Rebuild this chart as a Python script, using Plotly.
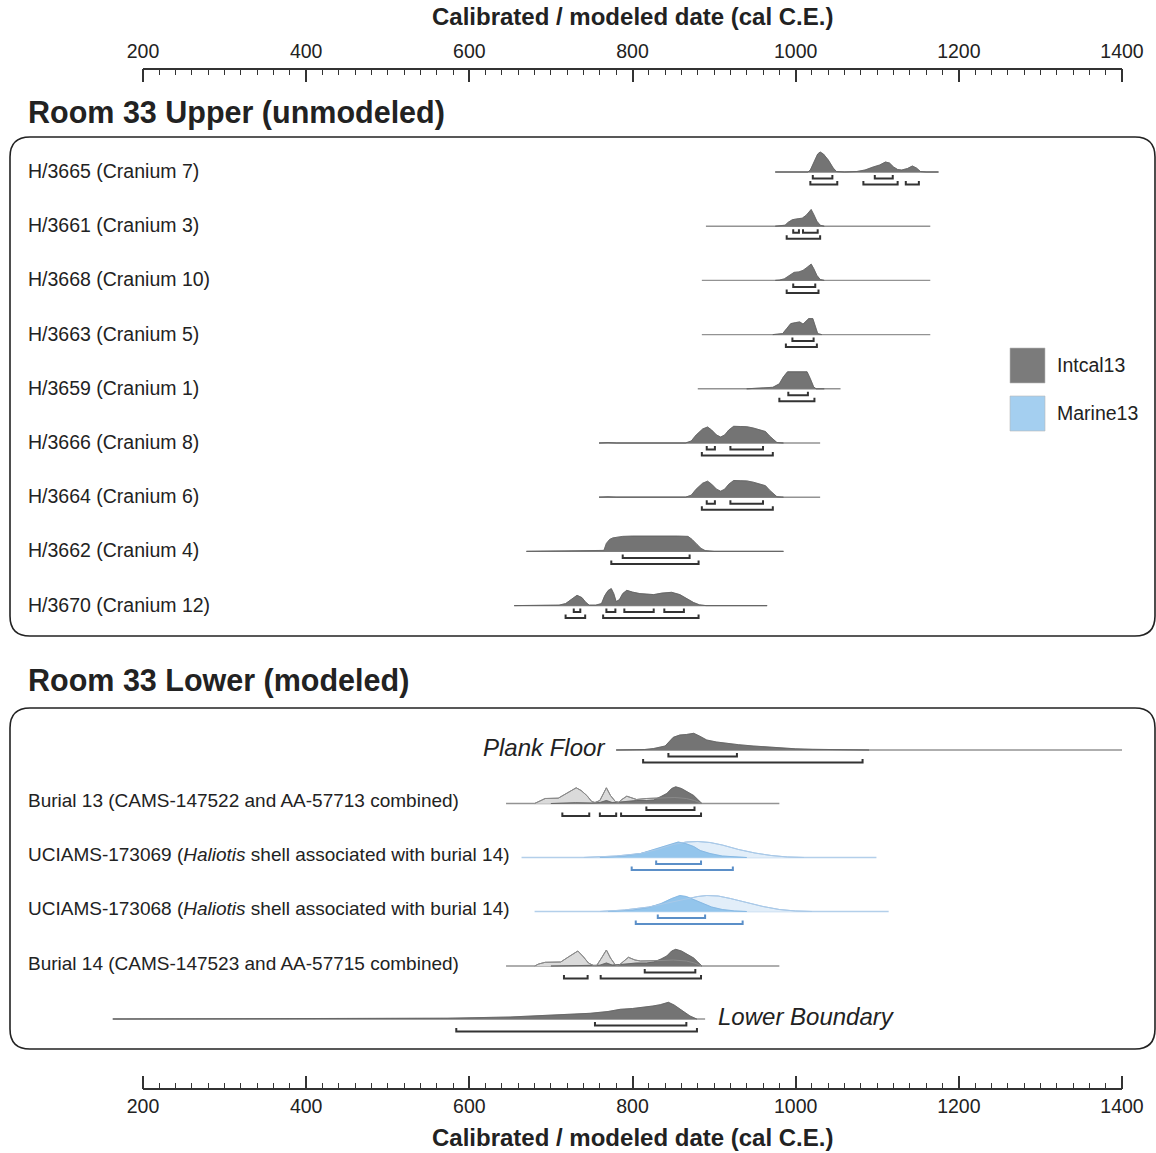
import plotly.graph_objects as go

# ======================= DATA =======================
AXIS_TICKS = [200, 400, 600, 800, 1000, 1200, 1400]
AXIS_TITLE = "Calibrated / modeled date (cal C.E.)"
UPPER_TITLE = "Room 33 Upper (unmodeled)"
LOWER_TITLE = "Room 33 Lower (modeled)"
LEGEND_LABELS = ["Intcal13", "Marine13"]

# --- Room 33 Upper (unmodeled), Intcal13 calibrated probability (relative units) ---
h3665_span = [975, 1175]
h3665_yr = [975, 1015, 1018, 1022, 1027, 1030, 1034, 1040, 1046, 1050, 1060, 1075, 1085, 1095, 1103, 1110, 1115, 1120, 1125, 1130, 1137, 1143, 1148, 1153, 1160, 1175]
h3665_p = [0, 0, 2, 10, 18, 20, 18, 12, 4, 0.5, 0, 0.5, 2, 5, 7, 10, 9, 5, 2.5, 2, 3.5, 6, 4, 0.5, 0, 0]
h3665_68 = [[1021, 1045], [1097, 1119]]
h3665_95 = [[1018, 1051], [1083, 1125], [1135, 1151]]

h3661_span = [890, 1165]
h3661_yr = [975, 980, 987, 991, 996, 1003, 1008, 1013, 1017, 1019, 1022, 1026, 1030, 1035]
h3661_p = [0, 0.3, 1, 4, 6.5, 7.5, 8, 11, 15, 16.7, 12, 5, 1, 0]
h3661_68 = [[997, 1004], [1009, 1027]]
h3661_95 = [[989, 1030]]

h3668_span = [885, 1165]
h3668_yr = [975, 980, 986, 992, 998, 1004, 1009, 1014, 1019, 1022, 1026, 1030, 1035]
h3668_p = [0, 0.3, 1.5, 5, 8, 8.5, 10, 13, 16.3, 12, 5, 1, 0]
h3668_68 = [[997, 1024]]
h3668_95 = [[989, 1028]]

h3663_span = [885, 1165]
h3663_yr = [972, 978, 984, 989, 994, 1000, 1005, 1009, 1013, 1016, 1021, 1024, 1027, 1032]
h3663_p = [0, 0.3, 1, 6, 11, 12, 12.7, 10.5, 14, 16, 16, 8, 1, 0]
h3663_68 = [[996, 1022]]
h3663_95 = [[988, 1026]]

h3659_span = [880, 1055]
h3659_yr = [940, 960, 972, 980, 985, 990, 1000, 1008, 1014, 1018, 1022, 1025, 1035]
h3659_p = [0, 0.5, 1.5, 5, 12, 17, 17.3, 17, 17, 10, 2, 0, 0]
h3659_68 = [[991, 1015]]
h3659_95 = [[980, 1023]]

h3666_span = [759, 1030]
h3666_yr = [759, 770, 780, 865, 872, 878, 886, 892, 897, 903, 908, 913, 918, 924, 932, 940, 948, 956, 963, 968, 973, 977, 985]
h3666_p = [0, 0.4, 0, 0, 2, 8, 14, 16, 13, 8, 6, 8, 13, 16.7, 16.5, 16.3, 15, 13.5, 11.5, 7, 3, 0.5, 0]
h3666_68 = [[891, 901], [920, 960]]
h3666_95 = [[885, 972]]

h3664_span = [759, 1030]
h3664_yr = [759, 770, 780, 865, 872, 878, 886, 892, 897, 903, 908, 913, 918, 924, 932, 940, 948, 956, 963, 968, 973, 977, 985]
h3664_p = [0, 0.4, 0, 0, 2, 8, 14, 16, 13, 8, 6, 8, 13, 16.7, 16.5, 16.3, 15, 13.5, 11.5, 7, 3, 0.5, 0]
h3664_68 = [[891, 901], [920, 960]]
h3664_95 = [[885, 972]]

h3662_span = [670, 985]
h3662_yr = [670, 700, 740, 755, 765, 768, 772, 776, 782, 788, 800, 820, 840, 855, 868, 873, 879, 884, 889, 900, 985]
h3662_p = [0, 0.3, 0.5, 0.5, 1, 8, 12, 13.5, 14.5, 15, 15.3, 15.5, 15.3, 15.3, 15, 12, 7, 3, 0.8, 0, 0]
h3662_68 = [[788, 870]]
h3662_95 = [[774, 881]]

h3670_span = [655, 965]
h3670_yr = [655, 690, 710, 718, 725, 732, 738, 743, 747, 755, 762, 766, 770, 774, 777, 780, 784, 788, 793, 800, 809, 818, 826, 836, 848, 858, 866, 875, 882, 890, 965]
h3670_p = [0, 0.3, 0.5, 2, 6, 10.3, 8, 3, 0.5, 0.5, 2, 10, 15, 17, 12, 4, 6, 12, 15.3, 13.5, 12, 11.3, 11, 12.5, 13.3, 11, 7, 3, 0.8, 0, 0]
h3670_68 = [[728, 736], [768, 779], [790, 826], [839, 863]]
h3670_95 = [[718, 742], [764, 881]]

# --- Room 33 Lower (modeled): likelihood (unmodeled) and posterior (modeled) ---
plank_span = [780, 1400]
plank_yr = [780, 815, 826, 840, 850, 858, 866, 875, 882, 891, 903, 915, 930, 948, 965, 981, 1000, 1021, 1063, 1090]
plank_post = [0, 0.5, 1.5, 4, 12.7, 15, 15.5, 16.7, 14, 10, 8, 6.7, 5.3, 4, 3, 2, 1.2, 0.7, 0.3, 0]
plank_68 = [[844, 928]]
plank_95 = [[813, 1082]]

b13_span = [645, 980]
b13_like_yr = [680, 685, 693, 709, 721, 731, 737, 744, 750, 754, 760, 764, 768, 773, 779, 783, 787, 793, 799, 805, 817, 834, 852, 866, 876, 885]
b13_like = [0, 2, 5, 5.3, 10.7, 15.7, 13, 8, 2, 1, 3, 10, 15.7, 8, 2, 1, 4, 7.3, 5.5, 4, 5, 5.3, 6, 5, 3, 0]
b13_post_yr = [700, 730, 750, 760, 768, 775, 785, 795, 805, 817, 826, 835, 842, 848, 853, 860, 866, 875, 880, 885]
b13_post = [0, 0.8, 0.5, 1, 3, 1, 1.5, 2.5, 3, 3, 3.5, 7, 10, 15, 16.7, 15, 12, 8, 4, 0]
b13_68 = [[817, 876]]
b13_95 = [[714, 747], [760, 780], [786, 884]]

u069_span = [664, 1099]
u069_like_yr = [740, 780, 810, 830, 850, 866, 880, 895, 910, 930, 950, 970, 990, 1010]
u069_like = [0, 1.5, 4, 8, 13, 15.5, 16, 15, 12.5, 8, 4.5, 2, 0.5, 0]
u069_post_yr = [760, 790, 810, 830, 845, 856, 865, 875, 883, 895, 910, 925, 940]
u069_post = [0, 1.5, 4, 9, 13, 15.5, 14, 11, 7, 4, 1.5, 0.4, 0]
u069_68 = [[829, 884]]
u069_95 = [[799, 923]]

u068_span = [680, 1114]
u068_like_yr = [760, 790, 820, 845, 865, 880, 891, 905, 920, 940, 960, 980, 1000, 1020]
u068_like = [0, 1.5, 4.5, 9, 13, 15, 16, 15.5, 13, 9, 5, 2, 0.5, 0]
u068_post_yr = [770, 800, 820, 835, 848, 858, 866, 875, 885, 897, 910, 925, 940]
u068_post = [0, 1.5, 4, 8, 13, 16, 15, 12, 8, 4.5, 2, 0.6, 0]
u068_68 = [[831, 889]]
u068_95 = [[804, 935]]

b14_span = [645, 980]
b14_like_yr = [680, 685, 693, 712, 722, 733, 740, 746, 752, 756, 762, 768, 773, 779, 783, 789, 795, 803, 810, 830, 850, 866, 876, 885]
b14_like = [0, 2, 3.7, 4, 9.3, 15, 9, 3, 0.5, 0.3, 8, 16, 8, 1, 0.5, 5, 8.7, 6, 5, 5.3, 6, 5, 3, 0]
b14_post_yr = [700, 730, 750, 760, 768, 775, 785, 795, 805, 817, 826, 835, 842, 848, 853, 860, 866, 875, 880, 885]
b14_post = [0, 0.6, 0.4, 0.8, 3, 1, 1.5, 2.5, 3, 3, 4, 7, 10, 15, 16.7, 15, 12, 8, 4, 0]
b14_68 = [[815, 877]]
b14_95 = [[716, 745], [761, 884]]

lowb_span = [163, 889]
lowb_yr = [163, 400, 500, 573, 650, 695, 748, 770, 785, 800, 817, 825, 834, 844, 851, 858, 865, 870.5, 878.7]
lowb_post = [0, 0.1, 0.4, 0.8, 2, 4, 5.7, 7.5, 9.7, 10.5, 11.7, 13, 14.3, 16.7, 14, 10, 6, 3, 0]
lowb_68 = [[754, 866]]
lowb_95 = [[584, 879]]

# ======================= STYLE / LAYOUT =======================
FONT = "Liberation Sans, Arial, Helvetica, sans-serif"
TXT = "#222222"
DARK_FILL = "#747474"
DARK_LINE = "#5e5e5e"
LIGHT_FILL = "#dadada"
LIGHT_LINE = "#8a8a8a"
BASE_GREY = "#939393"
BRACKET_GREY = "#333333"
BLUE_FILL = "#93c5ec"
BLUE_LINE = "#7fb3e0"
BLUE_LIGHT_FILL = "#e2eef9"
BLUE_LIGHT_LINE = "#a9c9e8"
BLUE_BASE = "#b3cfea"
BLUE_BRACKET = "#5b8fc8"
LEGEND_COLORS = ["#7b7b7b", "#a4cff0"]

# plot area = full width; x range chosen so that 200 -> px 143 and 1400 -> px 1122
PX_PER_YR = (1122 - 143) / 1200.0
X0 = 200 - 143 / PX_PER_YR
X1 = 1400 + (1156 - 1122) / PX_PER_YR
TOP, BOT = 69, 1089   # y pixel extent of plot area (y axis expressed in page pixels)


def px(xp):
    return xp / 1156.0


upper_rows = [
    ("H/3665 (Cranium 7)", h3665_span, h3665_yr, h3665_p, h3665_68, h3665_95),
    ("H/3661 (Cranium 3)", h3661_span, h3661_yr, h3661_p, h3661_68, h3661_95),
    ("H/3668 (Cranium 10)", h3668_span, h3668_yr, h3668_p, h3668_68, h3668_95),
    ("H/3663 (Cranium 5)", h3663_span, h3663_yr, h3663_p, h3663_68, h3663_95),
    ("H/3659 (Cranium 1)", h3659_span, h3659_yr, h3659_p, h3659_68, h3659_95),
    ("H/3666 (Cranium 8)", h3666_span, h3666_yr, h3666_p, h3666_68, h3666_95),
    ("H/3664 (Cranium 6)", h3664_span, h3664_yr, h3664_p, h3664_68, h3664_95),
    ("H/3662 (Cranium 4)", h3662_span, h3662_yr, h3662_p, h3662_68, h3662_95),
    ("H/3670 (Cranium 12)", h3670_span, h3670_yr, h3670_p, h3670_68, h3670_95),
]
upper_base = [172 + 54.2 * i for i in range(len(upper_rows))]

LABEL_SIZE = 19.5
LOWER_LABEL_SIZE = 19
lower_rows = [
    dict(label="<i>Plank Floor</i>", lx=607, la="right", size=24, span=plank_span,
         post=(plank_yr, plank_post), like=None, r68=plank_68, r95=plank_95, blue=False),
    dict(label="Burial 13 (CAMS-147522 and AA-57713 combined)", lx=26, la="left", size=LOWER_LABEL_SIZE, span=b13_span,
         post=(b13_post_yr, b13_post), like=(b13_like_yr, b13_like), r68=b13_68, r95=b13_95, blue=False),
    dict(label="UCIAMS-173069 (<i>Haliotis</i> shell associated with burial 14)", lx=26, la="left", size=LOWER_LABEL_SIZE,
         span=u069_span, post=(u069_post_yr, u069_post), like=(u069_like_yr, u069_like),
         r68=u069_68, r95=u069_95, blue=True),
    dict(label="UCIAMS-173068 (<i>Haliotis</i> shell associated with burial 14)", lx=26, la="left", size=LOWER_LABEL_SIZE,
         span=u068_span, post=(u068_post_yr, u068_post), like=(u068_like_yr, u068_like),
         r68=u068_68, r95=u068_95, blue=True),
    dict(label="Burial 14 (CAMS-147523 and AA-57715 combined)", lx=26, la="left", size=LOWER_LABEL_SIZE, span=b14_span,
         post=(b14_post_yr, b14_post), like=(b14_like_yr, b14_like), r68=b14_68, r95=b14_95, blue=False),
    dict(label="<i>Lower Boundary</i>", lx=716, la="left", size=24, span=lowb_span,
         post=(lowb_yr, lowb_post), like=None, r68=lowb_68, r95=lowb_95, blue=False),
]
lower_base = [750, 803.5, 857.5, 911.5, 966, 1019]

fig = go.Figure()


def add_base(span, base, color):
    fig.add_trace(go.Scatter(x=span, y=[base, base], mode="lines",
                             line=dict(color=color, width=1.4),
                             hoverinfo="skip", showlegend=False))


def add_density(yrs, vals, base, fill, line, lw=0.8):
    xs = list(yrs) + [yrs[-1], yrs[0]]
    ys = [base - v for v in vals] + [base, base]
    fig.add_trace(go.Scatter(x=xs, y=ys, mode="lines", fill="toself", fillcolor=fill,
                             line=dict(color=fill, width=0.5), hoverinfo="skip", showlegend=False))
    fig.add_trace(go.Scatter(x=list(yrs), y=[base - v for v in vals], mode="lines",
                             line=dict(color=line, width=lw), hoverinfo="skip", showlegend=False))


def add_outline(yrs, vals, base, line, lw=1.0):
    fig.add_trace(go.Scatter(x=list(yrs), y=[base - v for v in vals], mode="lines",
                             line=dict(color=line, width=lw), hoverinfo="skip", showlegend=False))


def add_brackets(r68, r95, base, color):
    xs, ys = [], []
    for ranges, off in ((r68, 6.5), (r95, 12.5)):
        y = base + off
        for a, b in ranges:
            xs += [a, a, b, b, None]
            ys += [y - 3.5, y, y, y - 3.5, None]
    fig.add_trace(go.Scatter(x=xs, y=ys, mode="lines", line=dict(color=color, width=2),
                             hoverinfo="skip", showlegend=False))


annotations = []

# upper panel rows
for (label, span, yrs, vals, r68, r95), base in zip(upper_rows, upper_base):
    add_base(span, base, BASE_GREY)
    add_density(yrs, vals, base, DARK_FILL, DARK_LINE)
    add_brackets(r68, r95, base, BRACKET_GREY)
    annotations.append(dict(x=px(26), xref="paper", y=base - 1, yref="y", text=label,
                            showarrow=False, xanchor="left", yanchor="middle",
                            font=dict(size=LABEL_SIZE, color=TXT, family=FONT)))

# lower panel rows
for row, base in zip(lower_rows, lower_base):
    blue = row["blue"]
    add_base(row["span"], base, BLUE_BASE if blue else BASE_GREY)
    if row["like"] is not None:
        add_density(row["like"][0], row["like"][1], base,
                    BLUE_LIGHT_FILL if blue else LIGHT_FILL,
                    BLUE_LIGHT_LINE if blue else LIGHT_LINE, lw=1.0)
    add_density(row["post"][0], row["post"][1], base,
                BLUE_FILL if blue else DARK_FILL, BLUE_LINE if blue else DARK_LINE)
    if row["like"] is not None:
        add_outline(row["like"][0], row["like"][1], base,
                    BLUE_LIGHT_LINE if blue else LIGHT_LINE, lw=1.0)
    add_brackets(row["r68"], row["r95"], base, BLUE_BRACKET if blue else BRACKET_GREY)
    annotations.append(dict(x=px(row["lx"]), xref="paper", y=base - 3, yref="y", text=row["label"],
                            showarrow=False, xanchor=row["la"], yanchor="middle",
                            font=dict(size=row["size"], color=TXT, family=FONT)))

# dummy trace for the bottom axis
fig.add_trace(go.Scatter(x=[200], y=[None], xaxis="x2", mode="markers",
                         hoverinfo="skip", showlegend=False))

# headers / axis titles
annotations += [
    dict(x=px(26), xref="paper", y=112, yref="y", text="<b>%s</b>" % UPPER_TITLE, showarrow=False,
         xanchor="left", yanchor="middle", font=dict(size=30.5, color=TXT, family=FONT)),
    dict(x=px(26), xref="paper", y=680, yref="y", text="<b>%s</b>" % LOWER_TITLE, showarrow=False,
         xanchor="left", yanchor="middle", font=dict(size=30.5, color=TXT, family=FONT)),
    dict(x=px(632), xref="paper", y=1 + (TOP - 17) / (BOT - TOP), yref="paper",
         text="<b>%s</b>" % AXIS_TITLE, showarrow=False, xanchor="center", yanchor="middle",
         font=dict(size=24, color=TXT, family=FONT)),
    dict(x=px(632), xref="paper", y=-(1137 - BOT) / (BOT - TOP), yref="paper",
         text="<b>%s</b>" % AXIS_TITLE, showarrow=False, xanchor="center", yanchor="middle",
         font=dict(size=24, color=TXT, family=FONT)),
]

# legend
shapes = []
for i, (lab, col) in enumerate(zip(LEGEND_LABELS, LEGEND_COLORS)):
    y0 = 348 + 48 * i
    shapes.append(dict(type="rect", xref="paper", yref="y", x0=px(1010), x1=px(1045), y0=y0, y1=y0 + 35,
                       fillcolor=col, line=dict(width=0.6, color="#bbbbbb"), layer="above"))
    annotations.append(dict(x=px(1055), xref="paper", y=y0 + 17, yref="y", text=lab, showarrow=False,
                            xanchor="left", yanchor="middle", font=dict(size=19.5, color=TXT, family=FONT)))


def rounded_panel(xl, xr, yt, yb, r=20):
    rx, ry = r / 1156.0, r
    a, b = px(xl), px(xr)
    return ("M %f,%f L %f,%f Q %f,%f %f,%f L %f,%f Q %f,%f %f,%f L %f,%f Q %f,%f %f,%f L %f,%f Q %f,%f %f,%f Z"
            % (a + rx, yt, b - rx, yt, b, yt, b, yt + ry, b, yb - ry, b, yb, b - rx, yb,
               a + rx, yb, a, yb, a, yb - ry, a, yt + ry, a, yt, a + rx, yt))


for yt, yb in ((137, 636), (708, 1049)):
    shapes.append(dict(type="path", xref="paper", yref="y", path=rounded_panel(10, 1155, yt, yb),
                       line=dict(color="#222222", width=1.6), layer="below"))

# axis lines (only between 200 and 1400)
for yv in (1, 0):
    shapes.append(dict(type="line", xref="x", yref="paper", x0=200, x1=1400, y0=yv, y1=yv,
                       line=dict(color="#333333", width=2)))

minor_vals = [v for v in range(200, 1401, 20) if v % 200 != 0]


def axis_cfg(standoff):
    return dict(
        range=[X0, X1], showgrid=False, zeroline=False, showline=False,
        tickmode="array", tickvals=AXIS_TICKS, ticktext=[str(t) for t in AXIS_TICKS],
        ticks="inside", ticklen=13, tickwidth=1.6, tickcolor="#333333",
        tickfont=dict(size=19.5, color=TXT, family=FONT), ticklabelstandoff=standoff,
        minor=dict(tickmode="array", tickvals=minor_vals, ticks="inside", ticklen=6,
                   tickwidth=1.2, tickcolor="#333333", showgrid=False),
        fixedrange=True,
    )


fig.update_layout(
    width=1156, height=1153, autosize=False,
    margin=dict(l=0, r=0, t=TOP, b=1153 - BOT, pad=0),
    paper_bgcolor="white", plot_bgcolor="white",
    showlegend=False,
    xaxis=dict(side="top", anchor="y", **axis_cfg(6)),
    xaxis2=dict(side="bottom", overlaying="x", anchor="y", **axis_cfg(3)),
    yaxis=dict(range=[BOT, TOP], visible=False, fixedrange=True),
    annotations=annotations,
    shapes=shapes,
)

fig.write_html("out.html")
